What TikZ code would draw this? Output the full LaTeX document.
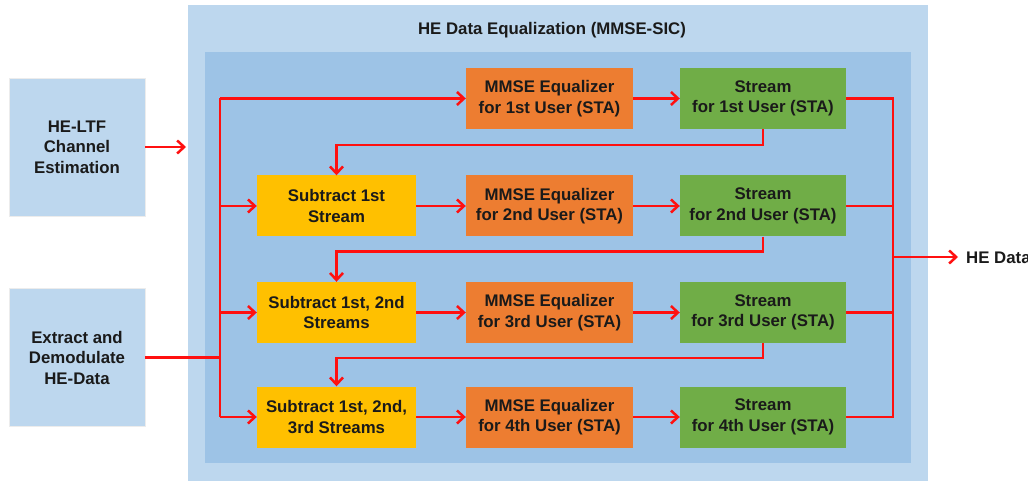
\documentclass[tikz,border=0pt]{standalone}
\usepackage{fontspec}
\setmainfont{Liberation Sans}
\usetikzlibrary{arrows.meta}
\definecolor{outerblue}{HTML}{BDD7EE}
\definecolor{innerblue}{HTML}{9DC3E6}
\definecolor{sidebox}{HTML}{BDD7EE}
\definecolor{mmse}{HTML}{ED7D31}
\definecolor{strm}{HTML}{70AD47}
\definecolor{subb}{HTML}{FFC000}
\definecolor{txt}{HTML}{1A1A1A}
\definecolor{wire}{HTML}{FF1010}
\tikzset{
  every node/.style={font=\fontsize{16.8}{20.5}\selectfont\bfseries, text=txt, align=center, inner sep=0pt},
  blk/.style={minimum height=61pt},
  mmsebox/.style={blk, fill=mmse, minimum width=167pt},
  strbox/.style={blk, fill=strm, minimum width=166pt},
  subbox/.style={blk, fill=subb, minimum width=159pt},
  sidebx/.style={fill=sidebox, draw=white!85!gray, line width=0.6pt, minimum width=136pt, minimum height=138pt},
  wireline/.style={draw=wire, line width=2.5pt},
  arr/.style={wireline, -{Straight Barb[length=7pt,width=13pt]}},
}
\begin{document}
\begin{tikzpicture}[x=1pt,y=-1pt]
\useasboundingbox (0,0) rectangle (1028,481);
\fill[white] (0,0) rectangle (1028,481);
\fill[outerblue] (188,5) rectangle (928,481);
\fill[innerblue] (205,52) rectangle (911,463);
\node (title) at (552,30) {HE Data Equalization (MMSE-SIC)};

\node[sidebx] (ltf) at (77,147) {HE-LTF\\Channel\\Estimation};
\node[sidebx] (ext) at (77,357.5) {Extract and\\Demodulate\\HE-Data};

\node[mmsebox] (m1) at (549.5,98.5) {MMSE Equalizer\\for 1st User (STA)};
\node[strbox] (s1) at (763,98.5) {Stream\\for 1st User (STA)};

\node[subbox] (u2) at (336.5,206) {Subtract 1st\\Stream};
\node[mmsebox] (m2) at (549.5,206) {MMSE Equalizer\\for 2nd User (STA)};
\node[strbox] (s2) at (763,206) {Stream\\for 2nd User (STA)};

\node[subbox] (u3) at (336.5,312.5) {Subtract 1st, 2nd\\Streams};
\node[mmsebox] (m3) at (549.5,312.5) {MMSE Equalizer\\for 3rd User (STA)};
\node[strbox] (s3) at (763,312.5) {Stream\\for 3rd User (STA)};

\node[subbox] (u4) at (336.5,417) {Subtract 1st, 2nd,\\3rd Streams};
\node[mmsebox] (m4) at (549.5,417) {MMSE Equalizer\\for 4th User (STA)};
\node[strbox] (s4) at (763,417) {Stream\\for 4th User (STA)};

\coordinate (ltfend) at (186,147);
\coordinate (busTop) at (220,98.5);
\coordinate (busBot) at (220,417);
\coordinate (outTop) at (893,98.5);
\coordinate (outBot) at (893,417);
\coordinate (outStart) at (893,257);
\coordinate (outEnd) at (958,257);
\node[anchor=west] (hedata) at (966,258) {HE Data};

% inputs
\draw[arr] (ltf.east) -- (ltfend);
\draw[wireline] (ext.east) -- (ext.east -| busTop);
\draw[wireline] (busTop) -- (busBot);
\draw[arr] (busTop) -- (m1.west);
\draw[arr] (busTop |- u2.west) -- (u2.west);
\draw[arr] (busTop |- u3.west) -- (u3.west);
\draw[arr] (busBot) -- (u4.west);

% row flows
\draw[arr] (m1.east) -- (s1.west);
\draw[arr] (u2.east) -- (m2.west);
\draw[arr] (m2.east) -- (s2.west);
\draw[arr] (u3.east) -- (m3.west);
\draw[arr] (m3.east) -- (s3.west);
\draw[arr] (u4.east) -- (m4.west);
\draw[arr] (m4.east) -- (s4.west);

% feedback
\draw[arr] (s1.south) -- ++(0,16) -| (u2.north);
\draw[arr] (s2.south) -- ++(0,15) -| (u3.north);
\draw[arr] (s3.south) -- ++(0,15) -| (u4.north);

% outputs
\draw[wireline] (s1.east) -- (outTop) -- (outBot) -- (s4.east);
\draw[wireline] (s2.east) -- (s2.east -| outTop);
\draw[wireline] (s3.east) -- (s3.east -| outTop);
\draw[arr] (outStart) -- (outEnd);
\end{tikzpicture}
\end{document}
